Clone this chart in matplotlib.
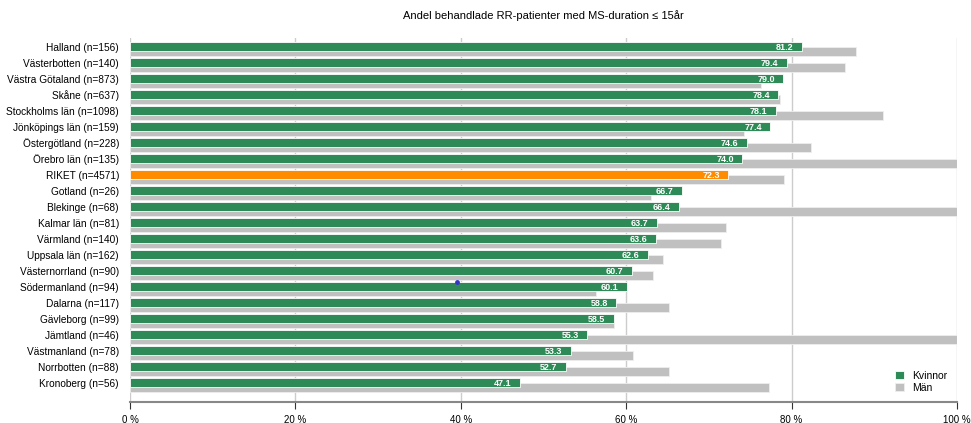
import numpy as np
import matplotlib.pyplot as plt

plt.rcParams['font.family'] = ['Liberation Sans', 'DejaVu Sans']

regions = ["Halland (n=156)", "Västerbotten (n=140)", "Västra Götaland (n=873)",
           "Skåne (n=637)", "Stockholms län (n=1098)", "Jönköpings län (n=159)",
           "Östergötland (n=228)", "Örebro län (n=135)", "RIKET (n=4571)",
           "Gotland (n=26)", "Blekinge (n=68)", "Kalmar län (n=81)",
           "Värmland (n=140)", "Uppsala län (n=162)", "Västernorrland (n=90)",
           "Södermanland (n=94)", "Dalarna (n=117)", "Gävleborg (n=99)",
           "Jämtland (n=46)", "Västmanland (n=78)", "Norrbotten (n=88)",
           "Kronoberg (n=56)"]
women = [81.2, 79.4, 79.0, 78.4, 78.1, 77.4, 74.6, 74.0, 72.3, 66.7, 66.4,
         63.7, 63.6, 62.6, 60.7, 60.1, 58.8, 58.5, 55.3, 53.3, 52.7, 47.1]
men = [87.8, 86.5, 76.3, 78.6, 91.0, 74.2, 82.3, 100.0, 79.1, 63.0, 100.0,
       72.1, 71.5, 64.5, 63.2, 56.4, 65.2, 58.5, 100.0, 60.8, 65.2, 77.3]
highlight = "RIKET (n=4571)"
marker_x = [39.5]
marker_y = [14.73]
xticks = [0, 20, 40, 60, 80, 100]

green = '#2e8b57'
orange = '#ff8c00'
grey = '#c0c0c0'

fig = plt.figure(figsize=(9.71, 4.23), dpi=100)
ax = fig.add_axes([130 / 971, 21 / 423, 827 / 971, 364 / 423])

y = np.arange(len(regions))
colors = [orange if r == highlight else green for r in regions]

ax.barh(y + 0.3, men, height=0.56, color=grey, edgecolor='#eeeeee',
        linewidth=0.6, zorder=2, label='Män')
ax.barh(y, women, height=0.54, color=colors, edgecolor='white',
        linewidth=0.6, zorder=3, label='Kvinnor')

for yi, v in zip(y, women):
    ax.text(v - 1.0, yi + 0.03, f"{v:.1f}", ha='right', va='center',
            color='white', fontsize=6.5, fontweight='bold', zorder=4)

ax.scatter(marker_x, marker_y, s=6, color='#3333cc', zorder=5)

ax.set_xlim(0, 100)
ax.set_ylim(22.2, -0.55)
ax.set_xticks(xticks)
ax.set_xticklabels([f"{t} %" for t in xticks], fontsize=7)
ax.tick_params(axis='x', direction='out', length=5, color='#333333', pad=4)
ax.set_yticks(y)
ax.set_yticklabels(regions, fontsize=7.3)
ax.tick_params(axis='y', length=0, pad=8)
ax.xaxis.grid(True, color='#cccccc', linewidth=1, zorder=0)
for s in ['top', 'right', 'left']:
    ax.spines[s].set_visible(False)
ax.spines['bottom'].set_color('#888888')
ax.spines['bottom'].set_linewidth(1.5)

ax.set_title("Andel behandlade RR-patienter med MS-duration \u2264 15år",
             fontsize=8, pad=14)

handles, labels = ax.get_legend_handles_labels()
ax.legend(handles[::-1], labels[::-1], loc='lower right', frameon=False,
          fontsize=7.5, handlelength=0.9, handleheight=0.9,
          handletextpad=0.8, labelspacing=0.2,
          bbox_to_anchor=(1.0, 0.0))

fig.savefig('out.png', dpi=100)
